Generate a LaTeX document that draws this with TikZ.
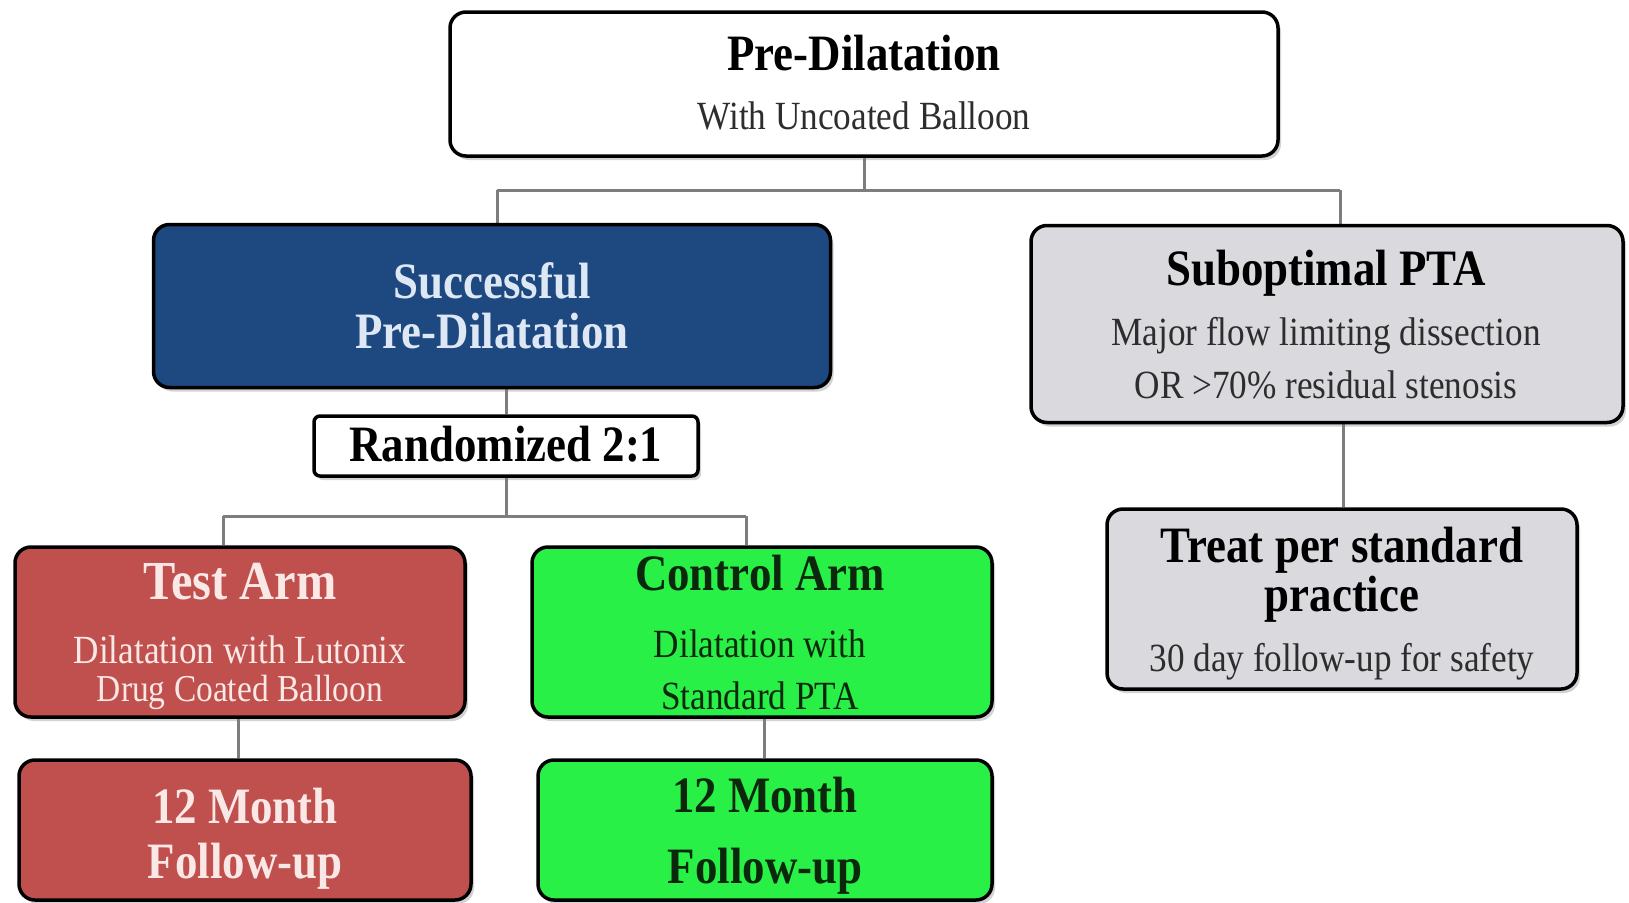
\documentclass[tikz,border=0pt]{standalone}
\usepackage{fontspec}
\setmainfont[FakeStretch=0.88]{Liberation Serif}
\usetikzlibrary{shadows,backgrounds}
\definecolor{navy}{RGB}{30,72,128}
\definecolor{navytxt}{RGB}{222,232,245}
\definecolor{redbox}{RGB}{192,80,77}
\definecolor{redtxt}{RGB}{250,232,230}
\definecolor{greenbox}{RGB}{40,240,70}
\definecolor{greentxt}{RGB}{12,40,12}
\definecolor{graybox}{RGB}{218,218,222}
\definecolor{conncol}{RGB}{125,125,125}
\definecolor{subtxt}{RGB}{45,45,45}
\tikzset{
  box/.style={draw=black, line width=3.5pt, rounded corners=16pt, inner sep=0pt,
    drop shadow={shadow xshift=3pt, shadow yshift=-4pt, opacity=0.35}},
  conn/.style={draw=conncol, line width=3pt},
  tb/.style={anchor=base, inner sep=0pt, font=\fontsize{51}{58}\selectfont\bfseries},
  tr/.style={anchor=base, inner sep=0pt, font=\fontsize{40}{46}\selectfont},
}
\begin{document}
\begin{tikzpicture}[x=1pt,y=-1pt]
\useasboundingbox (0,0) rectangle (1629,902);
% boxes
\node[box, fill=white, minimum width=828pt, minimum height=144pt] (top) at (864,84) {};
\node[box, fill=navy, minimum width=677pt, minimum height=163pt] (succ) at (492,306) {};
\node[box, fill=white, minimum width=384pt, minimum height=60pt, rounded corners=6pt] (rand) at (506,446) {};
\node[box, fill=graybox, minimum width=592pt, minimum height=197pt] (sub) at (1327,324) {};
\node[box, fill=graybox, minimum width=470pt, minimum height=180pt] (treat) at (1342,599) {};
\node[box, fill=redbox, minimum width=450pt, minimum height=170pt] (test) at (240,632) {};
\node[box, fill=greenbox, minimum width=460pt, minimum height=170pt] (ctrl) at (762,632) {};
\node[box, fill=redbox, minimum width=452pt, minimum height=140pt] (tfu) at (245,830) {};
\node[box, fill=greenbox, minimum width=454pt, minimum height=140pt] (cfu) at (765,830) {};
% connectors
\begin{pgfonlayer}{background}
\fill[white] (0,0) rectangle (1629,902);
\coordinate (bL) at (497,190);
\coordinate (bR) at (1340,190);
\draw[conn] (top.south) -- (top.south |- bL);
\draw[conn] (bL) -- (bR);
\draw[conn] (bL) -- (bL |- succ.north);
\draw[conn] (bR) -- (bR |- sub.north);
\draw[conn] (rand.north) -- (rand.north |- succ.south);
\coordinate (rL) at (223,516);
\coordinate (rR) at (746,516);
\draw[conn] (rand.south) -- (rand.south |- rL);
\draw[conn] (rL) -- (rR);
\draw[conn] (rL) -- (rL |- test.north);
\draw[conn] (rR) -- (rR |- ctrl.north);
\coordinate (tL) at (238,717);
\coordinate (cL) at (764,717);
\draw[conn] (tL) -- (tL |- tfu.north);
\draw[conn] (cL) -- (cL |- cfu.north);
\coordinate (sL) at (1343,423);
\draw[conn] (sL) -- (sL |- treat.north);
\end{pgfonlayer}
% texts
\node[tb] (t1) at (864,70) {Pre-Dilatation};
\node[tr, text=subtxt] (t2) at (864,129) {With Uncoated Balloon};
\node[tb, text=navytxt] (s1) at (492,298) {Successful};
\node[tb, text=navytxt] (s2) at (492,348) {Pre-Dilatation};
\node[tb] (r1) at (506,461) {Randomized 2:1};
\node[tb] (u1) at (1326,285) {Suboptimal PTA};
\node[tr, text=subtxt] (u2) at (1326,345) {Major flow limiting dissection};
\node[tr, text=subtxt] (u3) at (1326,398) {OR >70\% residual stenosis};
\node[tb] (p1) at (1342,562) {Treat per standard};
\node[tb] (p2) at (1342,611) {practice};
\node[tr, text=subtxt] (p3) at (1342,671) {30 day follow-up for safety};
\node[tb, text=redtxt, font=\fontsize{55}{60}\selectfont\bfseries] (a1) at (240,599) {Test Arm};
\node[tr, text=redtxt] (a2) at (240,663) {Dilatation with Lutonix};
\node[tr, text=redtxt, font=\fontsize{38}{44}\selectfont] (a3) at (240,701) {Drug Coated Balloon};
\node[tb, text=greentxt] (c1) at (760,590) {Control Arm};
\node[tr, text=greentxt] (c2) at (760,657) {Dilatation with};
\node[tr, text=greentxt] (c3) at (760,709) {Standard PTA};
\node[tb, text=redtxt] (f1) at (245,823) {12 Month};
\node[tb, text=redtxt] (f2) at (245,878) {Follow-up};
\node[tb, text=greentxt] (g1) at (765,812) {12 Month};
\node[tb, text=greentxt] (g2) at (765,883) {Follow-up};
\end{tikzpicture}
\end{document}
